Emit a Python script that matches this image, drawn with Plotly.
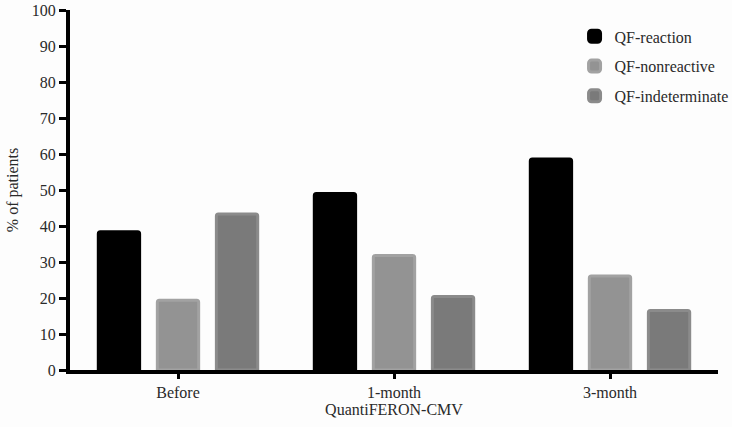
import plotly.graph_objects as go

# dane (% pacjentów)
groups = ["Before", "1-month", "3-month"]
qf_reaction = [38.4, 49.0, 58.6]
qf_nonreactive = [19.4, 31.8, 26.1]
qf_indeterminate = [43.3, 20.4, 16.5]
y_ticks = [0, 10, 20, 30, 40, 50, 60, 70, 80, 90, 100]

FONT = "Liberation Serif"
TXT = dict(family=FONT, size=16, color="#2a2a2a")

fig = go.Figure()
fig.add_trace(go.Bar(x=groups, y=qf_reaction, name="QF-reaction", legendgroup="a",
                     marker_color="#000000", marker_line_color="#000000"))
fig.add_trace(go.Bar(x=groups, y=qf_nonreactive, name="QF-nonreactive", legendgroup="b",
                     marker_color="#939393", marker_line_color="#a2a2a2"))
fig.add_trace(go.Bar(x=groups, y=qf_indeterminate, name="QF-indeterminate", legendgroup="c",
                     marker_color="#7a7a7a", marker_line_color="#8b8b8b"))
fig.update_traces(marker_line_width=3, marker_cornerradius=2)

fig.update_layout(
    width=732, height=427,
    margin=dict(l=70, r=14, t=10, b=57, autoexpand=False),
    paper_bgcolor="#fdfdfd", plot_bgcolor="#fdfdfd",
    font=TXT,
    barmode="group", bargap=0.18, bargroupgap=0.3,
    showlegend=True,
    legend=dict(x=1.024, y=0.974, xanchor="right", yanchor="top",
                font=TXT, traceorder="grouped", tracegroupgap=6,
                bgcolor="rgba(0,0,0,0)"),
)
fig.update_xaxes(
    title=dict(text="QuantiFERON-CMV", standoff=5, font=TXT),
    tickfont=TXT, automargin=False,
    range=[-0.5, 2.5], showline=True, linewidth=4, linecolor="black",
    ticks="outside", ticklen=5, tickwidth=3, tickcolor="black",
    showgrid=False, zeroline=False,
)
fig.update_yaxes(
    title=dict(text="% of patients", standoff=10, font=TXT),
    tickfont=TXT, automargin=False,
    range=[0, 100], tickvals=y_ticks, showline=True, linewidth=4, linecolor="black",
    ticks="outside", ticklen=7, tickwidth=3, tickcolor="black",
    showgrid=False, zeroline=False,
)

# usuwa domyślny margines strony (8 px), żeby wykres zaczynał się w rogu okna
fig.write_html("out.html", config={"displayModeBar": False},
               post_script="document.body.style.margin='0';")
